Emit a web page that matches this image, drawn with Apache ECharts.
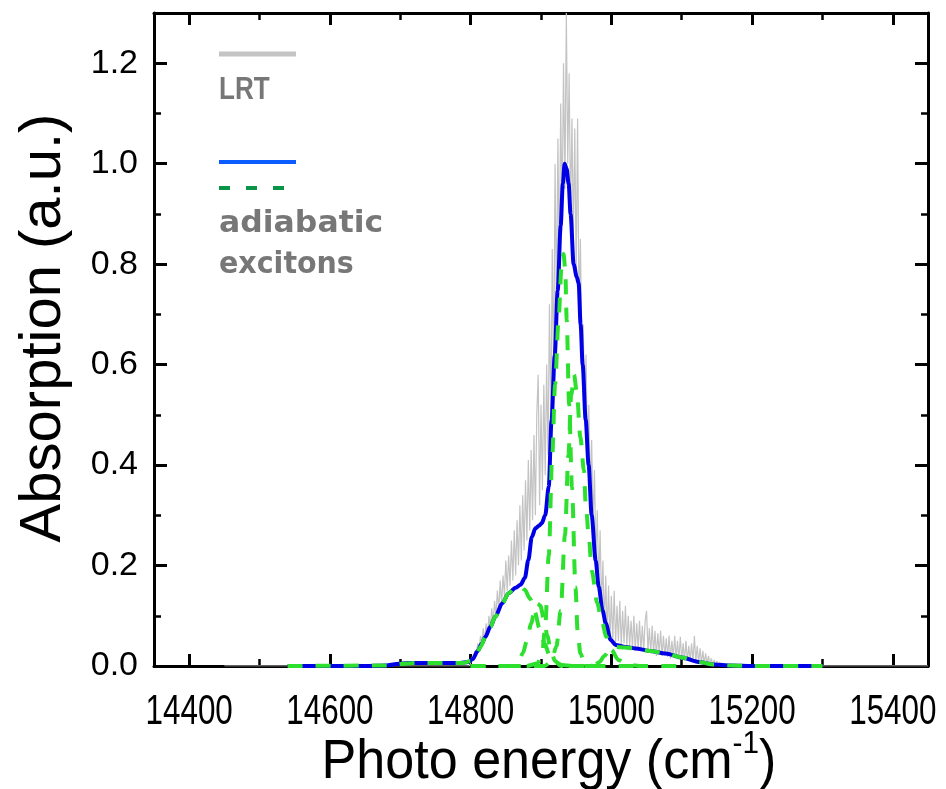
<!DOCTYPE html>
<html>
<head>
<meta charset="utf-8">
<script src="https://cdn.jsdelivr.net/npm/echarts@6.0.0/dist/echarts.min.js"></script>
<style>
  html, body { margin: 0; padding: 0; background: #fff; }
  #chart { width: 946px; height: 789px; }
</style>
</head>
<body>
<div id="chart"></div>
<script>
// Axis ranges and tick positions
const energyRange = [14350, 15450];
const absorptionRange = [0, 1.3];
const xMajorTicks = [14400, 14600, 14800, 15000, 15200, 15400];
const xMinorTicks = [14500, 14700, 14900, 15100, 15300];
const yMajorTicks = [0, 0.2, 0.4, 0.6, 0.8, 1.0, 1.2];
const yMinorTicks = [0.1, 0.3, 0.5, 0.7, 0.9, 1.1];

// LRT spectrum: flat ends plus an evenly sampled noisy band (2 cm-1 steps from 14800)
const lrtFlatLeft = [[14450, 0], [14798, 0]];
const lrtFlatRight = [[15172, 0], [15450, 0]];
const lrtStart = 14800;
const lrtStep = 2;
const lrtAbs = [
  0.006, 0.018, 0.010, 0.030, 0.022, 0.045,
  0.030, 0.060, 0.045, 0.075, 0.050,
  0.085, 0.060, 0.100, 0.075, 0.115,
  0.085, 0.130, 0.100, 0.150, 0.110,
  0.170, 0.120, 0.180, 0.140, 0.210,
  0.150, 0.220, 0.160, 0.250, 0.170,
  0.270, 0.180, 0.290, 0.200, 0.320,
  0.210, 0.340, 0.230, 0.370, 0.250,
  0.410, 0.270, 0.430, 0.290, 0.460,
  0.300, 0.500, 0.580, 0.320, 0.520,
  0.350, 0.560, 0.380, 0.600, 0.420,
  0.720, 0.480, 0.830, 0.580, 1.000,
  0.700, 1.050, 0.800, 1.120, 0.900,
  1.200, 0.950, 1.300, 1.000, 1.180,
  0.900, 1.090, 0.850, 1.070, 0.780,
  1.090, 0.700, 0.850, 0.620, 0.680,
  0.500, 0.620, 0.420, 0.520, 0.340,
  0.450, 0.280, 0.390, 0.210, 0.310,
  0.160, 0.270, 0.120, 0.210, 0.080,
  0.180, 0.060, 0.160, 0.050, 0.140,
  0.050, 0.150, 0.045, 0.120, 0.050,
  0.130, 0.040, 0.110, 0.045, 0.120,
  0.040, 0.100, 0.040, 0.090, 0.035,
  0.100, 0.030, 0.085, 0.035, 0.090,
  0.030, 0.080, 0.030, 0.090, 0.110,
  0.030, 0.075, 0.025, 0.080, 0.025,
  0.070, 0.020, 0.065, 0.025, 0.070,
  0.020, 0.060, 0.020, 0.055, 0.018,
  0.060, 0.015, 0.050, 0.018, 0.060,
  0.015, 0.050, 0.012, 0.058, 0.012,
  0.045, 0.010, 0.050, 0.010, 0.040,
  0.010, 0.045, 0.008, 0.060, 0.008,
  0.040, 0.006, 0.035, 0.005, 0.030,
  0.004, 0.025, 0.003, 0.020, 0.003,
  0.015, 0.002, 0.012, 0.002, 0.010,
  0.001, 0.008, 0.001, 0.005, 0.000,
  0.003, 0.000, 0.002, 0.000, 0.000
];

// Total absorption from the adiabatic exciton model
const totalSpectrum = [
  [14540, 0], [14600, 0], [14650, 0], [14680, 0.001], [14695, 0.004], [14710, 0.006],
  [14750, 0.006], [14785, 0.006], [14797, 0.008], [14803, 0.014], [14810, 0.030],
  [14816, 0.045], [14821, 0.058], [14828, 0.078], [14835, 0.098], [14845, 0.125],
  [14854, 0.145], [14864, 0.156], [14871, 0.162], [14877, 0.175], [14882, 0.211],
  [14887, 0.257], [14892, 0.274], [14897, 0.279], [14901, 0.284], [14906, 0.300],
  [14911, 0.357], [14915, 0.489], [14919.5, 0.618], [14923.7, 0.747], [14928, 0.877],
  [14931, 0.960], [14933.6, 1.000], [14936.4, 0.990], [14939.3, 0.960], [14942, 0.900],
  [14946.4, 0.800], [14950.7, 0.775], [14953.5, 0.762], [14956.3, 0.680], [14959.2, 0.600],
  [14963.5, 0.490], [14967.7, 0.400], [14972, 0.300], [14977.7, 0.210], [14982, 0.158],
  [14987.6, 0.110], [14992, 0.085], [14999, 0.052], [15006, 0.042], [15020, 0.038],
  [15034, 0.035], [15055, 0.030], [15077, 0.025], [15100, 0.017], [15124, 0.008],
  [15145, 0.003], [15170, 0.001], [15200, 0], [15250, 0], [15300, 0]
];

// Individual exciton bands
const bandLow = [
  [14540, 0], [14690, 0.001], [14700, 0.004], [14720, 0.006], [14760, 0.006], [14790, 0.006],
  [14800, 0.010], [14807, 0.020], [14814, 0.038], [14821, 0.058], [14828, 0.078],
  [14835, 0.098], [14845, 0.125], [14854, 0.145], [14862, 0.155], [14870, 0.158],
  [14877, 0.152], [14884, 0.135], [14891, 0.108], [14898, 0.075], [14905, 0.045],
  [14912, 0.022], [14920, 0.008], [14930, 0.002], [14945, 0], [15000, 0]
];
const bandSecond = [
  [14800, 0], [14862, 0], [14868, 0.008], [14874, 0.025], [14880, 0.050], [14886, 0.085],
  [14891, 0.112], [14895, 0.124], [14899, 0.120], [14904, 0.095], [14909, 0.060],
  [14914, 0.030], [14920, 0.010], [14928, 0], [14960, 0]
];
const bandMain = [
  [14800, 0], [14880, 0], [14895, 0.005], [14902, 0.030], [14906, 0.080], [14911, 0.220],
  [14916, 0.420], [14920, 0.560], [14925, 0.690], [14929, 0.790], [14932, 0.820],
  [14934.5, 0.790], [14936.5, 0.690], [14940, 0.520], [14944, 0.356], [14949, 0.157],
  [14952, 0.070], [14956, 0.025], [14962, 0.005], [14975, 0], [15050, 0]
];
const bandShoulder = [
  [14850, 0], [14905, 0], [14915, 0.010], [14922, 0.040], [14928, 0.110], [14934, 0.260],
  [14939, 0.420], [14943, 0.540], [14947, 0.580], [14951, 0.543], [14956, 0.455],
  [14961, 0.390], [14963.5, 0.324], [14968, 0.257], [14972, 0.190], [14980, 0.125],
  [14986, 0.091], [14993, 0.058], [15000, 0.032], [15010, 0.012], [15022, 0.003],
  [15040, 0], [15100, 0]
];
const bandTail = [
  [14940, 0], [14975, 0], [14983, 0.008], [14990, 0.020], [14997, 0.032], [15005, 0.038],
  [15020, 0.037], [15034, 0.035], [15055, 0.030], [15077, 0.025], [15100, 0.017],
  [15124, 0.008], [15145, 0.003], [15170, 0.001], [15200, 0], [15300, 0]
];
const excitonBands = [bandLow, bandSecond, bandMain, bandShoulder, bandTail];

const lrtSeries = lrtFlatLeft
  .concat(lrtAbs.map((v, i) => [lrtStart + i * lrtStep, v]))
  .concat(lrtFlatRight);

const FONT = '"Liberation Sans", Arial, sans-serif';
const plotRect = { left: 154, right: 18, top: 13, bottom: 123 };

function xAxisDef(gridIndex, position, ticks, len, width, withLine) {
  return {
    type: 'value', gridIndex, position,
    min: energyRange[0], max: energyRange[1],
    axisLine: { show: withLine, onZero: false, lineStyle: { color: '#000', width: 3 } },
    axisTick: { show: true, inside: true, length: len, customValues: ticks,
                lineStyle: { color: '#000', width: width } },
    axisLabel: { show: false },
    splitLine: { show: false }
  };
}
function yAxisDef(gridIndex, position, ticks, len, width, withLabels, withLine) {
  return {
    type: 'value', gridIndex, position,
    min: absorptionRange[0], max: absorptionRange[1],
    axisLine: { show: withLine, onZero: false, lineStyle: { color: '#000', width: 3 } },
    axisTick: { show: true, inside: true, length: len, customValues: ticks,
                lineStyle: { color: '#000', width: width } },
    axisLabel: withLabels
      ? { show: true, customValues: ticks, margin: 16, color: '#000',
          fontSize: 34, fontFamily: FONT, formatter: v => v.toFixed(1) }
      : { show: false },
    splitLine: { show: false }
  };
}

const greenDash = { color: '#2ee02e', width: 4, type: [15, 13], cap: 'butt' };

const option = {
  backgroundColor: '#fff',
  animation: false,
  grid: [Object.assign({}, plotRect), Object.assign({}, plotRect)],
  xAxis: [
    xAxisDef(0, 'bottom', xMajorTicks, 12, 3, true),
    xAxisDef(0, 'top', xMajorTicks, 12, 3, true),
    xAxisDef(1, 'bottom', xMinorTicks, 7, 2.5, false),
    xAxisDef(1, 'top', xMinorTicks, 7, 2.5, false)
  ],
  yAxis: [
    yAxisDef(0, 'left', yMajorTicks, 13, 3, true, true),
    yAxisDef(0, 'right', yMajorTicks, 13, 3, false, true),
    yAxisDef(1, 'left', yMinorTicks, 7, 2.5, false, false),
    yAxisDef(1, 'right', yMinorTicks, 7, 2.5, false, false)
  ],
  series: [
    {
      name: 'LRT', type: 'line', xAxisIndex: 0, yAxisIndex: 0,
      data: lrtSeries, showSymbol: false, symbol: 'none', z: 2,
      lineStyle: { color: '#c3c3c3', width: 1.2 }
    },
    {
      name: 'total', type: 'line', xAxisIndex: 0, yAxisIndex: 0,
      data: totalSpectrum, showSymbol: false, symbol: 'none', z: 3,
      smooth: 0.3, smoothMonotone: 'x',
      lineStyle: { color: '#0000e6', width: 4 }
    }
  ].concat(excitonBands.map((band, i) => ({
    name: 'band' + i, type: 'line', xAxisIndex: 0, yAxisIndex: 0,
    data: band, showSymbol: false, symbol: 'none', z: 4,
    smooth: 0.3, smoothMonotone: 'x',
    lineStyle: greenDash
  })))
};

const chart = echarts.init(document.getElementById('chart'), null, { renderer: 'canvas' });
chart.setOption(option);

// Energy tick labels (condensed face), placed through the x axis scale
const axisY = chart.convertToPixel({ yAxisIndex: 0 }, 0);
const xTickLabels = xMajorTicks.map((v, i) => ({
  id: 'xtick' + i, type: 'text',
  x: chart.convertToPixel({ xAxisIndex: 0 }, v), y: axisY + 46, scaleX: 0.73,
  style: { text: String(v), fill: '#000', fontSize: 43, fontFamily: FONT,
           align: 'center', verticalAlign: 'middle' }
}));

const decorations = [
  // legend block
  { id: 'lg-lrt-line', type: 'line', shape: { x1: 219, y1: 54, x2: 296, y2: 54 },
    style: { stroke: '#c4c4c4', lineWidth: 5 } },
  { id: 'lg-lrt-text', type: 'text', x: 219, y: 90, scaleX: 0.84,
    style: { text: 'LRT', fill: '#777', fontSize: 31, fontWeight: 'bold',
             fontFamily: FONT, align: 'left', verticalAlign: 'middle' } },
  { id: 'lg-total-line', type: 'line', shape: { x1: 219, y1: 162, x2: 296, y2: 162 },
    style: { stroke: '#0b5cff', lineWidth: 4 } },
  { id: 'lg-band-line', type: 'line', shape: { x1: 219, y1: 188, x2: 286, y2: 188 },
    style: { stroke: '#0a9447', lineWidth: 4, lineDash: [11, 16] } },
  { id: 'lg-text1', type: 'text', x: 219, y: 224, scaleX: 1.05,
    style: { text: 'adiabatic', fill: '#777', fontSize: 30, fontWeight: 'bold',
             fontFamily: '"DejaVu Sans", sans-serif', align: 'left', verticalAlign: 'middle' } },
  { id: 'lg-text2', type: 'text', x: 219, y: 265, scaleX: 0.95,
    style: { text: 'excitons', fill: '#777', fontSize: 30, fontWeight: 'bold',
             fontFamily: '"DejaVu Sans", sans-serif', align: 'left', verticalAlign: 'middle' } },
  // axis titles
  { id: 'ytitle', type: 'text', x: 44, y: 328, rotation: Math.PI / 2,
    style: { text: 'Absorption (a.u.)', fill: '#000', fontSize: 58, fontFamily: FONT,
             align: 'center', verticalAlign: 'middle' } },
  { id: 'xtitle', type: 'text', x: 549, y: 798, scaleX: 0.93,
    style: { text: '{a|Photo energy (cm}{b|-1}{a|)}', align: 'center', verticalAlign: 'bottom',
             rich: {
               a: { fontSize: 56, lineHeight: 70, fontFamily: FONT, fill: '#000' },
               b: { fontSize: 32, fontFamily: FONT, fill: '#000', verticalAlign: 'top' }
             } } }
];

chart.setOption({ graphic: xTickLabels.concat(decorations) });
</script>
</body>
</html>
